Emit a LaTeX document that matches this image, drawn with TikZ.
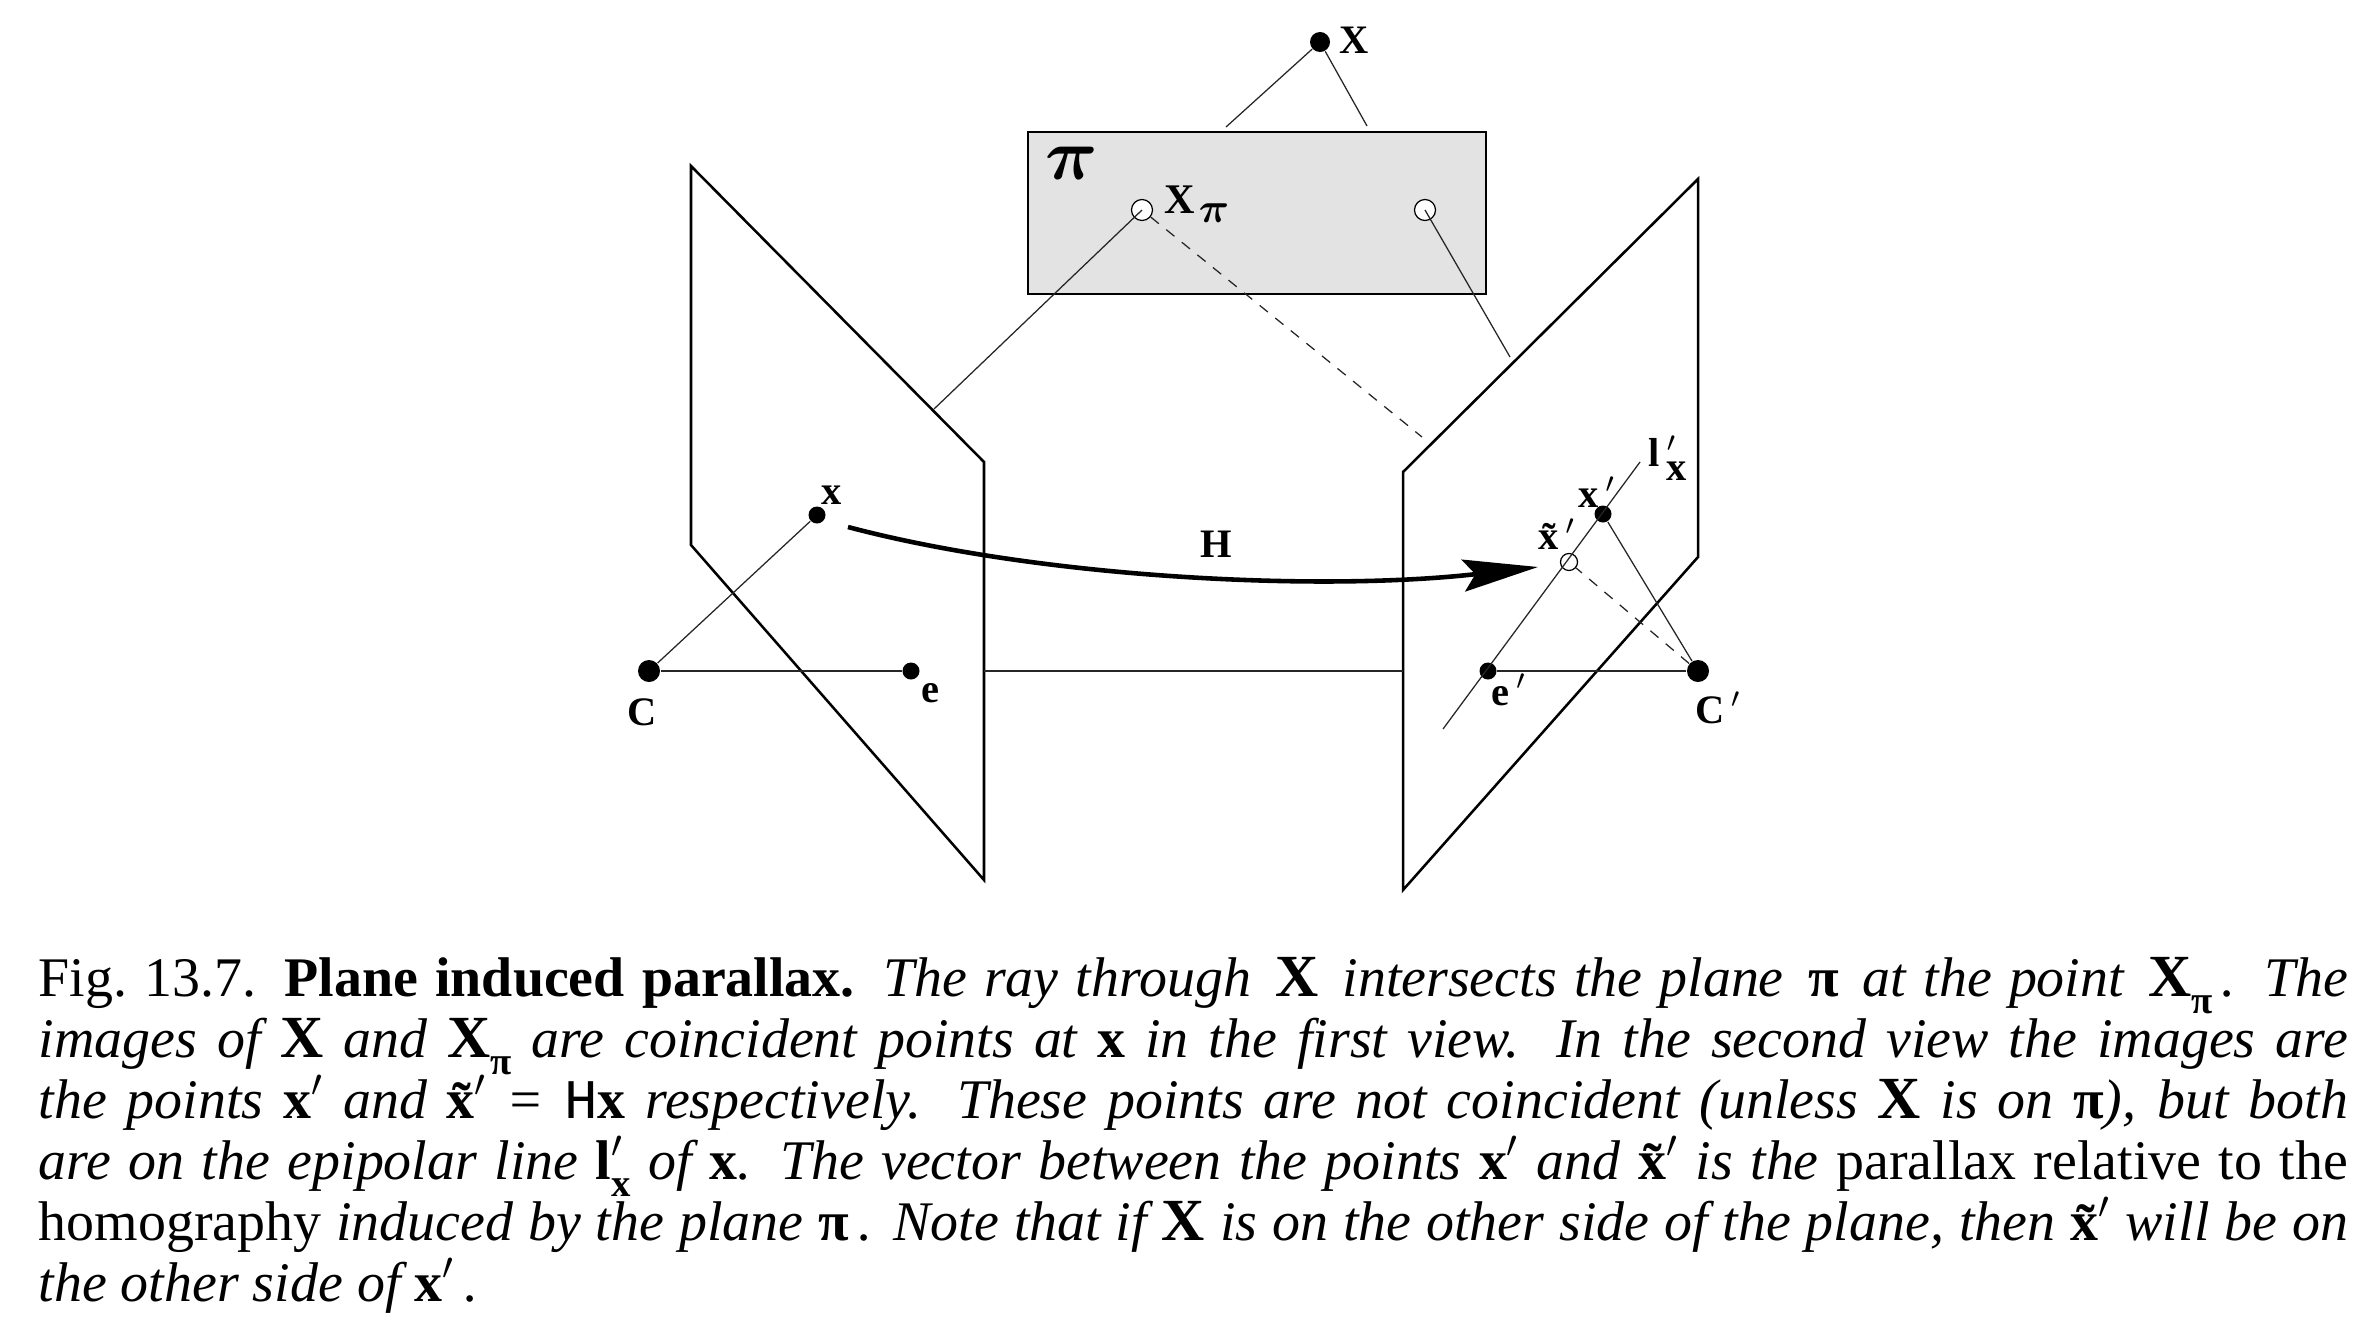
\documentclass[tikz,border=0pt]{standalone}
\usepackage{amsmath}
\usepackage{fontspec}
\setmainfont{Liberation Serif}
\setmonofont{Liberation Mono}
\usetikzlibrary{arrows.meta}

\newcommand{\vX}{{\fontsize{17}{17.35}\selectfont\upshape\bfseries X}}
\newcommand{\vx}{{\upshape\bfseries x}}
\newcommand{\vpi}{{\upshape\bfseries π}}
\newcommand{\vtx}{{\upshape\bfseries \~x}}
\newcommand{\vsub}[1]{\raisebox{-0.3em}{\fontsize{11}{12}\selectfont\upshape\bfseries #1}}
\newcommand{\prm}{$'$}

\tikzset{
    spot/.style={circle, fill=black, inner sep=0pt, minimum size=#1},
    hollow/.style={circle, draw=black, fill=white, line width=0.35pt, inner sep=0pt, minimum size=2.1mm},
    thinline/.style={line width=0.36pt, draw=black!85},
    dashline/.style={line width=0.36pt, draw=black!85, dash pattern=on 3pt off 2.7pt},
    planeedge/.style={line width=0.72pt, line join=miter},
    ptlabel/.style={inner sep=0pt, font=\fontsize{11.5}{13}\selectfont\bfseries},
}

\begin{document}
\begin{tikzpicture}[x=0.01cm, y=-0.01cm]

    \useasboundingbox (0,0) rectangle (2370,1330);

    % plane pi
    \draw[line width=0.7pt, fill=black!11] (1028,132) rectangle (1486,294);

    % image planes
    \draw[planeedge] (691,166) -- (984,462) -- (984,880) -- (691,545) -- cycle;
    \draw[planeedge] (1698,179) -- (1403,472) -- (1403,890) -- (1698,557) -- cycle;

    \node[spot=2mm]   (X)   at (1320,42) {};
    \node[hollow]     (Xpi) at (1142,210) {};
    \node[hollow]     (Yp)  at (1425,210) {};
    \node[spot=1.7mm] (x)   at (817,515) {};
    \node[spot=2.2mm] (C)   at (649,671) {};
    \node[spot=1.7mm] (e)   at (911,671) {};
    \node[spot=1.7mm] (xp)  at (1603,514) {};
    \node[hollow, minimum size=1.7mm] (xt) at (1569,562) {};
    \node[spot=1.7mm] (ep)  at (1488,671) {};
    \node[spot=2.2mm] (Cp)  at (1698,671) {};

    \coordinate (r1) at (1226,127);
    \coordinate (r2) at (1367,126);
    \coordinate (r3) at (934,409);
    \coordinate (r4) at (1510,357);
    \coordinate (r5) at (1422,437);
    \coordinate (b1) at (984,671);
    \coordinate (b2) at (1403,671);
    \coordinate (l1) at (1443,729);
    \coordinate (l2) at (1640,462);
    \coordinate (hs) at (848,527);
    \coordinate (ht) at (1538,567);

    \path[thinline]
        (X) edge (r1)
        (X) edge (r2)
        (Xpi.center) edge (r3)
        (Yp.center) edge (r4)
        (C) edge (x)
        (C) edge (e)
        (b1) edge (b2)
        (ep) edge (Cp)
        (Cp) edge (xp)
        (l1) edge (l2);

    \path[dashline]
        (Xpi) edge (r5)
        (Cp) edge (xt);

    \draw[line width=1.3pt, -{Stealth[length=7.5mm, width=3.2mm, inset=1.2mm]}]
        (hs) .. controls (1040,578) and (1320,592) .. (ht);

    \node[ptlabel] (lX)   at (1354,40)  {X};
    \node[inner sep=0pt, font=\fontsize{20}{22}\selectfont] (lpi) at (1072,163) {$\boldsymbol{\pi}$};
    \node[ptlabel, font=\fontsize{12}{13}\selectfont\bfseries] (lXpi) at (1197,204) {X\kern1pt\raisebox{-0.2em}{$\boldsymbol{\pi}$}};
    \node[ptlabel] (lx)   at (832,495)  {x};
    \node[ptlabel] (lC)   at (642,712)  {C};
    \node[ptlabel] (le)   at (930,693)  {e};
    \node[ptlabel] (lH)   at (1216,544) {H};
    \node[ptlabel] (lxp)  at (1597,492) {x\,$'$};
    \node[ptlabel] (lxt)  at (1557,534) {\~x\,$'$};
    \node[ptlabel] (lep)  at (1509,690) {e\,$'$};
    \node[ptlabel] (lCp)  at (1718,708) {C\,$'$};
    \node[ptlabel] (ll)   at (1668,458) {l\rlap{\,$'$}\raisebox{-0.35em}{\,x}};

    % caption
    \node[anchor=north west, inner sep=0pt, text width=23.08cm, align=justify,
          font=\fontsize{15.9}{17.35}\selectfont] (cap) at (38,957) {%
        Fig.\ 13.7. \textbf{Plane induced parallax.} {\itshape The ray through\hspace{2pt} \vX\hspace{2pt} intersects the plane\hspace{2pt} \vpi\hspace{2pt} at the point\hspace{2pt} \vX\vsub{π}\,. The\linebreak
        images of \vX{} and \vX\vsub{π} are coincident points at \vx{} in the first view. In the second view the images are\linebreak
        the points \vx\prm{} and \vtx\prm{} = {\upshape\ttfamily H}\vx{} respectively. These points are not coincident (unless \vX{} is on \vpi), but both\linebreak
        are on the epipolar line {\upshape\bfseries l}\rlap{\prm}\vsub{x} of \vx. The vector between the points \vx\prm{} and \vtx\prm{} is the} parallax relative to the\linebreak
        homography {\itshape induced by the plane \vpi\,. Note that if \vX{} is on the other side of the plane, then \vtx\prm{} will be on\linebreak
        the other side of \vx\prm\,.}};

\end{tikzpicture}
\end{document}
